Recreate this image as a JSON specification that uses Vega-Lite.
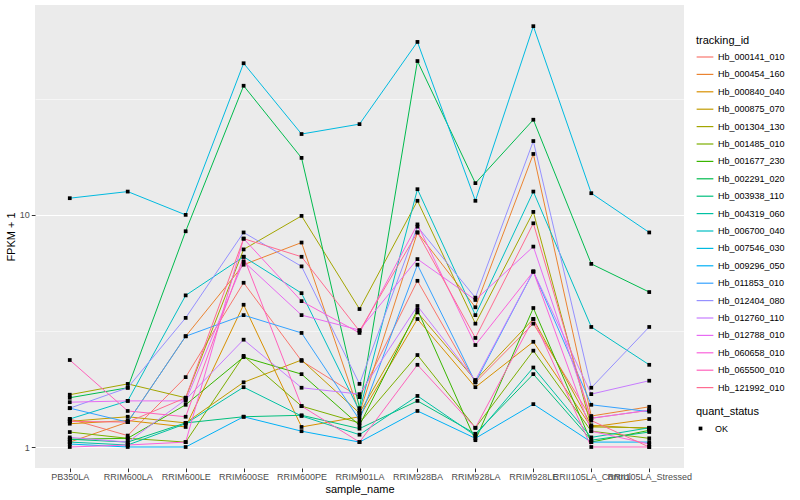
{
"$schema": "https://vega.github.io/schema/vega-lite/v6.json",
"width": 649, "height": 463,
"autosize": {"type": "none"},
"padding": {"left": 35, "top": 5, "right": 116, "bottom": 32},
"background": "white",
"config": {
  "font": "Liberation Sans",
  "view": {"fill": "#EBEBEB", "stroke": null},
  "axis": {"domain": false, "gridColor": "white", "tickColor": "#333333", "tickSize": 3.7, "labelColor": "#4D4D4D", "labelFontSize": 9, "titleFontSize": 11, "titleFontWeight": "normal", "titleColor": "black"},
  "legend": {"titleFontSize": 11, "titleFontWeight": "normal", "labelFontSize": 9, "labelColor": "black", "titleColor": "black"}
},
"data": {"values": [
{"tracking_id":"Hb_000141_010","sample_name":"PB350LA","fpkm":1.32,"quant_status":"OK"},
{"tracking_id":"Hb_000141_010","sample_name":"RRIM600LA","fpkm":1.12,"quant_status":"OK"},
{"tracking_id":"Hb_000141_010","sample_name":"RRIM600LE","fpkm":2.0,"quant_status":"OK"},
{"tracking_id":"Hb_000141_010","sample_name":"RRIM600SE","fpkm":5.1,"quant_status":"OK"},
{"tracking_id":"Hb_000141_010","sample_name":"RRIM600PE","fpkm":2.35,"quant_status":"OK"},
{"tracking_id":"Hb_000141_010","sample_name":"RRIM901LA","fpkm":1.64,"quant_status":"OK"},
{"tracking_id":"Hb_000141_010","sample_name":"RRIM928BA","fpkm":5.2,"quant_status":"OK"},
{"tracking_id":"Hb_000141_010","sample_name":"RRIM928LA","fpkm":1.9,"quant_status":"OK"},
{"tracking_id":"Hb_000141_010","sample_name":"RRIM928LE","fpkm":3.4,"quant_status":"OK"},
{"tracking_id":"Hb_000141_010","sample_name":"RRII105LA_Control","fpkm":1.33,"quant_status":"OK"},
{"tracking_id":"Hb_000141_010","sample_name":"RRII105LA_Stressed","fpkm":1.44,"quant_status":"OK"},
{"tracking_id":"Hb_000454_160","sample_name":"PB350LA","fpkm":1.05,"quant_status":"OK"},
{"tracking_id":"Hb_000454_160","sample_name":"RRIM600LA","fpkm":1.28,"quant_status":"OK"},
{"tracking_id":"Hb_000454_160","sample_name":"RRIM600LE","fpkm":3.0,"quant_status":"OK"},
{"tracking_id":"Hb_000454_160","sample_name":"RRIM600SE","fpkm":6.1,"quant_status":"OK"},
{"tracking_id":"Hb_000454_160","sample_name":"RRIM600PE","fpkm":7.6,"quant_status":"OK"},
{"tracking_id":"Hb_000454_160","sample_name":"RRIM901LA","fpkm":1.4,"quant_status":"OK"},
{"tracking_id":"Hb_000454_160","sample_name":"RRIM928BA","fpkm":8.4,"quant_status":"OK"},
{"tracking_id":"Hb_000454_160","sample_name":"RRIM928LA","fpkm":4.0,"quant_status":"OK"},
{"tracking_id":"Hb_000454_160","sample_name":"RRIM928LE","fpkm":18.3,"quant_status":"OK"},
{"tracking_id":"Hb_000454_160","sample_name":"RRII105LA_Control","fpkm":1.36,"quant_status":"OK"},
{"tracking_id":"Hb_000454_160","sample_name":"RRII105LA_Stressed","fpkm":1.49,"quant_status":"OK"},
{"tracking_id":"Hb_000840_040","sample_name":"PB350LA","fpkm":1.26,"quant_status":"OK"},
{"tracking_id":"Hb_000840_040","sample_name":"RRIM600LA","fpkm":1.3,"quant_status":"OK"},
{"tracking_id":"Hb_000840_040","sample_name":"RRIM600LE","fpkm":1.22,"quant_status":"OK"},
{"tracking_id":"Hb_000840_040","sample_name":"RRIM600SE","fpkm":4.1,"quant_status":"OK"},
{"tracking_id":"Hb_000840_040","sample_name":"RRIM600PE","fpkm":1.22,"quant_status":"OK"},
{"tracking_id":"Hb_000840_040","sample_name":"RRIM901LA","fpkm":1.35,"quant_status":"OK"},
{"tracking_id":"Hb_000840_040","sample_name":"RRIM928BA","fpkm":3.56,"quant_status":"OK"},
{"tracking_id":"Hb_000840_040","sample_name":"RRIM928LA","fpkm":1.81,"quant_status":"OK"},
{"tracking_id":"Hb_000840_040","sample_name":"RRIM928LE","fpkm":2.84,"quant_status":"OK"},
{"tracking_id":"Hb_000840_040","sample_name":"RRII105LA_Control","fpkm":1.22,"quant_status":"OK"},
{"tracking_id":"Hb_000840_040","sample_name":"RRII105LA_Stressed","fpkm":1.32,"quant_status":"OK"},
{"tracking_id":"Hb_000875_070","sample_name":"PB350LA","fpkm":1.29,"quant_status":"OK"},
{"tracking_id":"Hb_000875_070","sample_name":"RRIM600LA","fpkm":1.35,"quant_status":"OK"},
{"tracking_id":"Hb_000875_070","sample_name":"RRIM600LE","fpkm":1.27,"quant_status":"OK"},
{"tracking_id":"Hb_000875_070","sample_name":"RRIM600SE","fpkm":1.9,"quant_status":"OK"},
{"tracking_id":"Hb_000875_070","sample_name":"RRIM600PE","fpkm":2.37,"quant_status":"OK"},
{"tracking_id":"Hb_000875_070","sample_name":"RRIM901LA","fpkm":1.4,"quant_status":"OK"},
{"tracking_id":"Hb_000875_070","sample_name":"RRIM928BA","fpkm":3.8,"quant_status":"OK"},
{"tracking_id":"Hb_000875_070","sample_name":"RRIM928LA","fpkm":1.94,"quant_status":"OK"},
{"tracking_id":"Hb_000875_070","sample_name":"RRIM928LE","fpkm":3.56,"quant_status":"OK"},
{"tracking_id":"Hb_000875_070","sample_name":"RRII105LA_Control","fpkm":1.24,"quant_status":"OK"},
{"tracking_id":"Hb_000875_070","sample_name":"RRII105LA_Stressed","fpkm":1.2,"quant_status":"OK"},
{"tracking_id":"Hb_001304_130","sample_name":"PB350LA","fpkm":1.68,"quant_status":"OK"},
{"tracking_id":"Hb_001304_130","sample_name":"RRIM600LA","fpkm":1.87,"quant_status":"OK"},
{"tracking_id":"Hb_001304_130","sample_name":"RRIM600LE","fpkm":1.63,"quant_status":"OK"},
{"tracking_id":"Hb_001304_130","sample_name":"RRIM600SE","fpkm":7.1,"quant_status":"OK"},
{"tracking_id":"Hb_001304_130","sample_name":"RRIM600PE","fpkm":9.9,"quant_status":"OK"},
{"tracking_id":"Hb_001304_130","sample_name":"RRIM901LA","fpkm":3.93,"quant_status":"OK"},
{"tracking_id":"Hb_001304_130","sample_name":"RRIM928BA","fpkm":11.5,"quant_status":"OK"},
{"tracking_id":"Hb_001304_130","sample_name":"RRIM928LA","fpkm":3.4,"quant_status":"OK"},
{"tracking_id":"Hb_001304_130","sample_name":"RRIM928LE","fpkm":10.3,"quant_status":"OK"},
{"tracking_id":"Hb_001304_130","sample_name":"RRII105LA_Control","fpkm":1.22,"quant_status":"OK"},
{"tracking_id":"Hb_001304_130","sample_name":"RRII105LA_Stressed","fpkm":1.21,"quant_status":"OK"},
{"tracking_id":"Hb_001485_010","sample_name":"PB350LA","fpkm":1.16,"quant_status":"OK"},
{"tracking_id":"Hb_001485_010","sample_name":"RRIM600LA","fpkm":1.09,"quant_status":"OK"},
{"tracking_id":"Hb_001485_010","sample_name":"RRIM600LE","fpkm":1.05,"quant_status":"OK"},
{"tracking_id":"Hb_001485_010","sample_name":"RRIM600SE","fpkm":2.47,"quant_status":"OK"},
{"tracking_id":"Hb_001485_010","sample_name":"RRIM600PE","fpkm":1.5,"quant_status":"OK"},
{"tracking_id":"Hb_001485_010","sample_name":"RRIM901LA","fpkm":1.27,"quant_status":"OK"},
{"tracking_id":"Hb_001485_010","sample_name":"RRIM928BA","fpkm":2.49,"quant_status":"OK"},
{"tracking_id":"Hb_001485_010","sample_name":"RRIM928LA","fpkm":1.21,"quant_status":"OK"},
{"tracking_id":"Hb_001485_010","sample_name":"RRIM928LE","fpkm":2.6,"quant_status":"OK"},
{"tracking_id":"Hb_001485_010","sample_name":"RRII105LA_Control","fpkm":1.17,"quant_status":"OK"},
{"tracking_id":"Hb_001485_010","sample_name":"RRII105LA_Stressed","fpkm":1.09,"quant_status":"OK"},
{"tracking_id":"Hb_001677_230","sample_name":"PB350LA","fpkm":1.08,"quant_status":"OK"},
{"tracking_id":"Hb_001677_230","sample_name":"RRIM600LA","fpkm":1.09,"quant_status":"OK"},
{"tracking_id":"Hb_001677_230","sample_name":"RRIM600LE","fpkm":1.52,"quant_status":"OK"},
{"tracking_id":"Hb_001677_230","sample_name":"RRIM600SE","fpkm":2.44,"quant_status":"OK"},
{"tracking_id":"Hb_001677_230","sample_name":"RRIM600PE","fpkm":2.06,"quant_status":"OK"},
{"tracking_id":"Hb_001677_230","sample_name":"RRIM901LA","fpkm":1.24,"quant_status":"OK"},
{"tracking_id":"Hb_001677_230","sample_name":"RRIM928BA","fpkm":3.9,"quant_status":"OK"},
{"tracking_id":"Hb_001677_230","sample_name":"RRIM928LA","fpkm":1.07,"quant_status":"OK"},
{"tracking_id":"Hb_001677_230","sample_name":"RRIM928LE","fpkm":3.97,"quant_status":"OK"},
{"tracking_id":"Hb_001677_230","sample_name":"RRII105LA_Control","fpkm":1.05,"quant_status":"OK"},
{"tracking_id":"Hb_001677_230","sample_name":"RRII105LA_Stressed","fpkm":1.18,"quant_status":"OK"},
{"tracking_id":"Hb_002291_020","sample_name":"PB350LA","fpkm":1.63,"quant_status":"OK"},
{"tracking_id":"Hb_002291_020","sample_name":"RRIM600LA","fpkm":1.8,"quant_status":"OK"},
{"tracking_id":"Hb_002291_020","sample_name":"RRIM600LE","fpkm":8.5,"quant_status":"OK"},
{"tracking_id":"Hb_002291_020","sample_name":"RRIM600SE","fpkm":36,"quant_status":"OK"},
{"tracking_id":"Hb_002291_020","sample_name":"RRIM600PE","fpkm":17.6,"quant_status":"OK"},
{"tracking_id":"Hb_002291_020","sample_name":"RRIM901LA","fpkm":1.47,"quant_status":"OK"},
{"tracking_id":"Hb_002291_020","sample_name":"RRIM928BA","fpkm":46,"quant_status":"OK"},
{"tracking_id":"Hb_002291_020","sample_name":"RRIM928LA","fpkm":13.7,"quant_status":"OK"},
{"tracking_id":"Hb_002291_020","sample_name":"RRIM928LE","fpkm":25.7,"quant_status":"OK"},
{"tracking_id":"Hb_002291_020","sample_name":"RRII105LA_Control","fpkm":6.15,"quant_status":"OK"},
{"tracking_id":"Hb_002291_020","sample_name":"RRII105LA_Stressed","fpkm":4.65,"quant_status":"OK"},
{"tracking_id":"Hb_003938_110","sample_name":"PB350LA","fpkm":1.08,"quant_status":"OK"},
{"tracking_id":"Hb_003938_110","sample_name":"RRIM600LA","fpkm":1.05,"quant_status":"OK"},
{"tracking_id":"Hb_003938_110","sample_name":"RRIM600LE","fpkm":1.27,"quant_status":"OK"},
{"tracking_id":"Hb_003938_110","sample_name":"RRIM600SE","fpkm":1.35,"quant_status":"OK"},
{"tracking_id":"Hb_003938_110","sample_name":"RRIM600PE","fpkm":1.37,"quant_status":"OK"},
{"tracking_id":"Hb_003938_110","sample_name":"RRIM901LA","fpkm":1.2,"quant_status":"OK"},
{"tracking_id":"Hb_003938_110","sample_name":"RRIM928BA","fpkm":1.58,"quant_status":"OK"},
{"tracking_id":"Hb_003938_110","sample_name":"RRIM928LA","fpkm":1.14,"quant_status":"OK"},
{"tracking_id":"Hb_003938_110","sample_name":"RRIM928LE","fpkm":2.06,"quant_status":"OK"},
{"tracking_id":"Hb_003938_110","sample_name":"RRII105LA_Control","fpkm":1.07,"quant_status":"OK"},
{"tracking_id":"Hb_003938_110","sample_name":"RRII105LA_Stressed","fpkm":1.16,"quant_status":"OK"},
{"tracking_id":"Hb_004319_060","sample_name":"PB350LA","fpkm":1.05,"quant_status":"OK"},
{"tracking_id":"Hb_004319_060","sample_name":"RRIM600LA","fpkm":1.02,"quant_status":"OK"},
{"tracking_id":"Hb_004319_060","sample_name":"RRIM600LE","fpkm":1.26,"quant_status":"OK"},
{"tracking_id":"Hb_004319_060","sample_name":"RRIM600SE","fpkm":1.81,"quant_status":"OK"},
{"tracking_id":"Hb_004319_060","sample_name":"RRIM600PE","fpkm":1.36,"quant_status":"OK"},
{"tracking_id":"Hb_004319_060","sample_name":"RRIM901LA","fpkm":1.13,"quant_status":"OK"},
{"tracking_id":"Hb_004319_060","sample_name":"RRIM928BA","fpkm":1.66,"quant_status":"OK"},
{"tracking_id":"Hb_004319_060","sample_name":"RRIM928LA","fpkm":1.12,"quant_status":"OK"},
{"tracking_id":"Hb_004319_060","sample_name":"RRIM928LE","fpkm":2.2,"quant_status":"OK"},
{"tracking_id":"Hb_004319_060","sample_name":"RRII105LA_Control","fpkm":1.1,"quant_status":"OK"},
{"tracking_id":"Hb_004319_060","sample_name":"RRII105LA_Stressed","fpkm":1.21,"quant_status":"OK"},
{"tracking_id":"Hb_006700_040","sample_name":"PB350LA","fpkm":1.32,"quant_status":"OK"},
{"tracking_id":"Hb_006700_040","sample_name":"RRIM600LA","fpkm":1.58,"quant_status":"OK"},
{"tracking_id":"Hb_006700_040","sample_name":"RRIM600LE","fpkm":4.5,"quant_status":"OK"},
{"tracking_id":"Hb_006700_040","sample_name":"RRIM600SE","fpkm":6.6,"quant_status":"OK"},
{"tracking_id":"Hb_006700_040","sample_name":"RRIM600PE","fpkm":4.6,"quant_status":"OK"},
{"tracking_id":"Hb_006700_040","sample_name":"RRIM901LA","fpkm":1.43,"quant_status":"OK"},
{"tracking_id":"Hb_006700_040","sample_name":"RRIM928BA","fpkm":12.9,"quant_status":"OK"},
{"tracking_id":"Hb_006700_040","sample_name":"RRIM928LA","fpkm":3.7,"quant_status":"OK"},
{"tracking_id":"Hb_006700_040","sample_name":"RRIM928LE","fpkm":12.6,"quant_status":"OK"},
{"tracking_id":"Hb_006700_040","sample_name":"RRII105LA_Control","fpkm":3.29,"quant_status":"OK"},
{"tracking_id":"Hb_006700_040","sample_name":"RRII105LA_Stressed","fpkm":2.26,"quant_status":"OK"},
{"tracking_id":"Hb_007546_030","sample_name":"PB350LA","fpkm":11.8,"quant_status":"OK"},
{"tracking_id":"Hb_007546_030","sample_name":"RRIM600LA","fpkm":12.6,"quant_status":"OK"},
{"tracking_id":"Hb_007546_030","sample_name":"RRIM600LE","fpkm":10.0,"quant_status":"OK"},
{"tracking_id":"Hb_007546_030","sample_name":"RRIM600SE","fpkm":45,"quant_status":"OK"},
{"tracking_id":"Hb_007546_030","sample_name":"RRIM600PE","fpkm":22.3,"quant_status":"OK"},
{"tracking_id":"Hb_007546_030","sample_name":"RRIM901LA","fpkm":24.6,"quant_status":"OK"},
{"tracking_id":"Hb_007546_030","sample_name":"RRIM928BA","fpkm":55.6,"quant_status":"OK"},
{"tracking_id":"Hb_007546_030","sample_name":"RRIM928LA","fpkm":11.5,"quant_status":"OK"},
{"tracking_id":"Hb_007546_030","sample_name":"RRIM928LE","fpkm":65,"quant_status":"OK"},
{"tracking_id":"Hb_007546_030","sample_name":"RRII105LA_Control","fpkm":12.4,"quant_status":"OK"},
{"tracking_id":"Hb_007546_030","sample_name":"RRII105LA_Stressed","fpkm":8.4,"quant_status":"OK"},
{"tracking_id":"Hb_009296_050","sample_name":"PB350LA","fpkm":1.03,"quant_status":"OK"},
{"tracking_id":"Hb_009296_050","sample_name":"RRIM600LA","fpkm":1.0,"quant_status":"OK"},
{"tracking_id":"Hb_009296_050","sample_name":"RRIM600LE","fpkm":1.0,"quant_status":"OK"},
{"tracking_id":"Hb_009296_050","sample_name":"RRIM600SE","fpkm":1.35,"quant_status":"OK"},
{"tracking_id":"Hb_009296_050","sample_name":"RRIM600PE","fpkm":1.17,"quant_status":"OK"},
{"tracking_id":"Hb_009296_050","sample_name":"RRIM901LA","fpkm":1.05,"quant_status":"OK"},
{"tracking_id":"Hb_009296_050","sample_name":"RRIM928BA","fpkm":1.43,"quant_status":"OK"},
{"tracking_id":"Hb_009296_050","sample_name":"RRIM928LA","fpkm":1.09,"quant_status":"OK"},
{"tracking_id":"Hb_009296_050","sample_name":"RRIM928LE","fpkm":1.53,"quant_status":"OK"},
{"tracking_id":"Hb_009296_050","sample_name":"RRII105LA_Control","fpkm":1.05,"quant_status":"OK"},
{"tracking_id":"Hb_009296_050","sample_name":"RRII105LA_Stressed","fpkm":1.05,"quant_status":"OK"},
{"tracking_id":"Hb_011853_010","sample_name":"PB350LA","fpkm":1.47,"quant_status":"OK"},
{"tracking_id":"Hb_011853_010","sample_name":"RRIM600LA","fpkm":1.28,"quant_status":"OK"},
{"tracking_id":"Hb_011853_010","sample_name":"RRIM600LE","fpkm":3.0,"quant_status":"OK"},
{"tracking_id":"Hb_011853_010","sample_name":"RRIM600SE","fpkm":3.7,"quant_status":"OK"},
{"tracking_id":"Hb_011853_010","sample_name":"RRIM600PE","fpkm":3.1,"quant_status":"OK"},
{"tracking_id":"Hb_011853_010","sample_name":"RRIM901LA","fpkm":1.31,"quant_status":"OK"},
{"tracking_id":"Hb_011853_010","sample_name":"RRIM928BA","fpkm":6.1,"quant_status":"OK"},
{"tracking_id":"Hb_011853_010","sample_name":"RRIM928LA","fpkm":1.9,"quant_status":"OK"},
{"tracking_id":"Hb_011853_010","sample_name":"RRIM928LE","fpkm":5.7,"quant_status":"OK"},
{"tracking_id":"Hb_011853_010","sample_name":"RRII105LA_Control","fpkm":1.52,"quant_status":"OK"},
{"tracking_id":"Hb_011853_010","sample_name":"RRII105LA_Stressed","fpkm":1.42,"quant_status":"OK"},
{"tracking_id":"Hb_012404_080","sample_name":"PB350LA","fpkm":1.47,"quant_status":"OK"},
{"tracking_id":"Hb_012404_080","sample_name":"RRIM600LA","fpkm":1.8,"quant_status":"OK"},
{"tracking_id":"Hb_012404_080","sample_name":"RRIM600LE","fpkm":3.6,"quant_status":"OK"},
{"tracking_id":"Hb_012404_080","sample_name":"RRIM600SE","fpkm":8.4,"quant_status":"OK"},
{"tracking_id":"Hb_012404_080","sample_name":"RRIM600PE","fpkm":6.0,"quant_status":"OK"},
{"tracking_id":"Hb_012404_080","sample_name":"RRIM901LA","fpkm":1.87,"quant_status":"OK"},
{"tracking_id":"Hb_012404_080","sample_name":"RRIM928BA","fpkm":8.9,"quant_status":"OK"},
{"tracking_id":"Hb_012404_080","sample_name":"RRIM928LA","fpkm":4.4,"quant_status":"OK"},
{"tracking_id":"Hb_012404_080","sample_name":"RRIM928LE","fpkm":20.8,"quant_status":"OK"},
{"tracking_id":"Hb_012404_080","sample_name":"RRII105LA_Control","fpkm":1.8,"quant_status":"OK"},
{"tracking_id":"Hb_012404_080","sample_name":"RRII105LA_Stressed","fpkm":3.29,"quant_status":"OK"},
{"tracking_id":"Hb_012760_110","sample_name":"PB350LA","fpkm":1.1,"quant_status":"OK"},
{"tracking_id":"Hb_012760_110","sample_name":"RRIM600LA","fpkm":1.05,"quant_status":"OK"},
{"tracking_id":"Hb_012760_110","sample_name":"RRIM600LE","fpkm":1.6,"quant_status":"OK"},
{"tracking_id":"Hb_012760_110","sample_name":"RRIM600SE","fpkm":2.9,"quant_status":"OK"},
{"tracking_id":"Hb_012760_110","sample_name":"RRIM600PE","fpkm":1.8,"quant_status":"OK"},
{"tracking_id":"Hb_012760_110","sample_name":"RRIM901LA","fpkm":1.69,"quant_status":"OK"},
{"tracking_id":"Hb_012760_110","sample_name":"RRIM928BA","fpkm":4.05,"quant_status":"OK"},
{"tracking_id":"Hb_012760_110","sample_name":"RRIM928LA","fpkm":1.94,"quant_status":"OK"},
{"tracking_id":"Hb_012760_110","sample_name":"RRIM928LE","fpkm":5.7,"quant_status":"OK"},
{"tracking_id":"Hb_012760_110","sample_name":"RRII105LA_Control","fpkm":1.69,"quant_status":"OK"},
{"tracking_id":"Hb_012760_110","sample_name":"RRII105LA_Stressed","fpkm":1.93,"quant_status":"OK"},
{"tracking_id":"Hb_012788_010","sample_name":"PB350LA","fpkm":1.56,"quant_status":"OK"},
{"tracking_id":"Hb_012788_010","sample_name":"RRIM600LA","fpkm":1.58,"quant_status":"OK"},
{"tracking_id":"Hb_012788_010","sample_name":"RRIM600LE","fpkm":1.58,"quant_status":"OK"},
{"tracking_id":"Hb_012788_010","sample_name":"RRIM600SE","fpkm":6.3,"quant_status":"OK"},
{"tracking_id":"Hb_012788_010","sample_name":"RRIM600PE","fpkm":3.7,"quant_status":"OK"},
{"tracking_id":"Hb_012788_010","sample_name":"RRIM901LA","fpkm":3.19,"quant_status":"OK"},
{"tracking_id":"Hb_012788_010","sample_name":"RRIM928BA","fpkm":6.45,"quant_status":"OK"},
{"tracking_id":"Hb_012788_010","sample_name":"RRIM928LA","fpkm":4.3,"quant_status":"OK"},
{"tracking_id":"Hb_012788_010","sample_name":"RRIM928LE","fpkm":7.3,"quant_status":"OK"},
{"tracking_id":"Hb_012788_010","sample_name":"RRII105LA_Control","fpkm":1.33,"quant_status":"OK"},
{"tracking_id":"Hb_012788_010","sample_name":"RRII105LA_Stressed","fpkm":1.44,"quant_status":"OK"},
{"tracking_id":"Hb_060658_010","sample_name":"PB350LA","fpkm":1.0,"quant_status":"OK"},
{"tracking_id":"Hb_060658_010","sample_name":"RRIM600LA","fpkm":1.02,"quant_status":"OK"},
{"tracking_id":"Hb_060658_010","sample_name":"RRIM600LE","fpkm":1.05,"quant_status":"OK"},
{"tracking_id":"Hb_060658_010","sample_name":"RRIM600SE","fpkm":7.9,"quant_status":"OK"},
{"tracking_id":"Hb_060658_010","sample_name":"RRIM600PE","fpkm":4.25,"quant_status":"OK"},
{"tracking_id":"Hb_060658_010","sample_name":"RRIM901LA","fpkm":3.1,"quant_status":"OK"},
{"tracking_id":"Hb_060658_010","sample_name":"RRIM928BA","fpkm":9.1,"quant_status":"OK"},
{"tracking_id":"Hb_060658_010","sample_name":"RRIM928LA","fpkm":2.75,"quant_status":"OK"},
{"tracking_id":"Hb_060658_010","sample_name":"RRIM928LE","fpkm":5.7,"quant_status":"OK"},
{"tracking_id":"Hb_060658_010","sample_name":"RRII105LA_Control","fpkm":1.17,"quant_status":"OK"},
{"tracking_id":"Hb_060658_010","sample_name":"RRII105LA_Stressed","fpkm":1.03,"quant_status":"OK"},
{"tracking_id":"Hb_065500_010","sample_name":"PB350LA","fpkm":2.37,"quant_status":"OK"},
{"tracking_id":"Hb_065500_010","sample_name":"RRIM600LA","fpkm":1.43,"quant_status":"OK"},
{"tracking_id":"Hb_065500_010","sample_name":"RRIM600LE","fpkm":1.35,"quant_status":"OK"},
{"tracking_id":"Hb_065500_010","sample_name":"RRIM600SE","fpkm":6.6,"quant_status":"OK"},
{"tracking_id":"Hb_065500_010","sample_name":"RRIM600PE","fpkm":1.5,"quant_status":"OK"},
{"tracking_id":"Hb_065500_010","sample_name":"RRIM901LA","fpkm":1.05,"quant_status":"OK"},
{"tracking_id":"Hb_065500_010","sample_name":"RRIM928BA","fpkm":2.26,"quant_status":"OK"},
{"tracking_id":"Hb_065500_010","sample_name":"RRIM928LA","fpkm":1.21,"quant_status":"OK"},
{"tracking_id":"Hb_065500_010","sample_name":"RRIM928LE","fpkm":3.56,"quant_status":"OK"},
{"tracking_id":"Hb_065500_010","sample_name":"RRII105LA_Control","fpkm":1.0,"quant_status":"OK"},
{"tracking_id":"Hb_065500_010","sample_name":"RRII105LA_Stressed","fpkm":1.0,"quant_status":"OK"},
{"tracking_id":"Hb_121992_010","sample_name":"PB350LA","fpkm":1.29,"quant_status":"OK"},
{"tracking_id":"Hb_121992_010","sample_name":"RRIM600LA","fpkm":1.28,"quant_status":"OK"},
{"tracking_id":"Hb_121992_010","sample_name":"RRIM600LE","fpkm":1.63,"quant_status":"OK"},
{"tracking_id":"Hb_121992_010","sample_name":"RRIM600SE","fpkm":7.9,"quant_status":"OK"},
{"tracking_id":"Hb_121992_010","sample_name":"RRIM600PE","fpkm":6.6,"quant_status":"OK"},
{"tracking_id":"Hb_121992_010","sample_name":"RRIM901LA","fpkm":3.16,"quant_status":"OK"},
{"tracking_id":"Hb_121992_010","sample_name":"RRIM928BA","fpkm":8.4,"quant_status":"OK"},
{"tracking_id":"Hb_121992_010","sample_name":"RRIM928LA","fpkm":2.95,"quant_status":"OK"},
{"tracking_id":"Hb_121992_010","sample_name":"RRIM928LE","fpkm":9.2,"quant_status":"OK"},
{"tracking_id":"Hb_121992_010","sample_name":"RRII105LA_Control","fpkm":1.3,"quant_status":"OK"},
{"tracking_id":"Hb_121992_010","sample_name":"RRII105LA_Stressed","fpkm":1.0,"quant_status":"OK"}
]},
"encoding": {
  "x": {"field": "sample_name", "type": "nominal", "title": "sample_name",
    "sort": ["PB350LA","RRIM600LA","RRIM600LE","RRIM600SE","RRIM600PE","RRIM901LA","RRIM928BA","RRIM928LA","RRIM928LE","RRII105LA_Control","RRII105LA_Stressed"],
    "scale": {"type": "point", "padding": 0.6},
    "axis": {"labelAngle": 0, "labelOverlap": false, "labelBound": false, "labelLimit": 0, "labelPadding": 1, "titlePadding": 2, "gridWidth": 1.1}},
  "y": {"field": "fpkm", "type": "quantitative", "title": "FPKM + 1",
    "scale": {"type": "log", "domain": [0.812, 80.2], "nice": false, "zero": false},
    "axis": {"values": [1, 3.1623, 10, 31.623], "labelExpr": "datum.value == 1 ? '1' : (datum.value == 10 ? '10' : '')", "labelPadding": 2, "titlePadding": 3,
      "gridWidth": {"condition": {"test": "datum.value == 1 || datum.value == 10", "value": 1.1}, "value": 0.55},
      "tickOpacity": {"condition": {"test": "datum.value == 1 || datum.value == 10", "value": 1}, "value": 0}}}
},
"layer": [
  {"mark": {"type": "line", "strokeWidth": 1},
   "encoding": {"color": {"field": "tracking_id", "type": "nominal", "title": "tracking_id",
     "scale": {"range": ["#F8766D","#EA8331","#D89000","#C09B00","#A3A500","#7CAE00","#39B600","#00BB4E","#00BF7D","#00C1A3","#00BFC4","#00BAE0","#00B0F6","#35A2FF","#9590FF","#C77CFF","#E76BF3","#FA62DB","#FF62BC","#FF6C91"]},
     "legend": {"orient": "none", "legendX": 661, "legendY": 30, "symbolType": "stroke", "symbolSize": 280, "symbolStrokeWidth": 1.2, "symbolOpacity": 1, "rowPadding": 3.4, "labelOffset": 4, "titlePadding": 2}}}},
  {"mark": {"type": "point", "filled": true, "color": "black", "size": 14, "opacity": 1},
   "encoding": {"shape": {"field": "quant_status", "type": "nominal", "title": "quant_status",
     "scale": {"range": ["square"]},
     "legend": {"orient": "none", "legendX": 661, "legendY": 401, "symbolFillColor": "black", "symbolStrokeColor": "black", "symbolSize": 14, "labelOffset": 10, "titlePadding": 7}}}}
]
}
